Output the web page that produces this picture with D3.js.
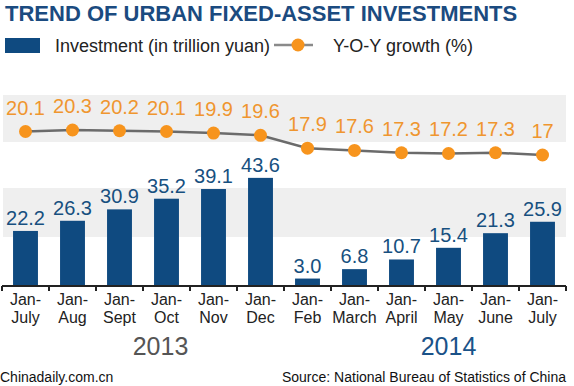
<!DOCTYPE html>
<html>
  <head>
    <meta charset="utf-8">
    <title>Urban fixed-asset investments</title>
    <script src="https://cdn.jsdelivr.net/npm/d3@7"></script>
	<style>
body {
  margin: 0;
  background: #fff;
  font-family: "Liberation Sans", Arial, sans-serif;
}
.band { fill: #efefef; }
.bar { fill: #0f4a80; }
.barLbl { fill: #17507f; font-size: 20px; text-anchor: middle; }
.growthLine { fill: none; stroke: #6b6b6b; stroke-width: 2.5px; }
.dot { fill: #f7941d; }
.dotLbl { fill: #ef962f; font-size: 20px; text-anchor: middle; }
.catLbl { fill: #222; font-size: 16px; text-anchor: middle; }
.axis path { stroke: #222; stroke-width: 2px; }
	</style>
  </head>
  <body>
<script>

// values
var periods = ["Jan-July", "Jan-Aug", "Jan-Sept", "Jan-Oct", "Jan-Nov", "Jan-Dec",
               "Jan-Feb", "Jan-March", "Jan-April", "Jan-May", "Jan-June", "Jan-July"];
var years = [2013, 2013, 2013, 2013, 2013, 2013, 2014, 2014, 2014, 2014, 2014, 2014];
var investment = [22.2, 26.3, 30.9, 35.2, 39.1, 43.6, 3.0, 6.8, 10.7, 15.4, 21.3, 25.9];
var growth = [20.1, 20.3, 20.2, 20.1, 19.9, 19.6, 17.9, 17.6, 17.3, 17.2, 17.3, 17];
var growthLabels = ["20.1", "20.3", "20.2", "20.1", "19.9", "19.6", "17.9", "17.6", "17.3", "17.2", "17.3", "17"];
var yearLabels = [{year: "2013", at: "Jan-Oct 2013", dx: -6, color: "#555"},
                  {year: "2014", at: "Jan-May 2014", dx: 0, color: "#1a5288"}];

var W = 574, H = 386;
var keys = periods.map(function(p, i) { return p + " " + years[i]; });
var data = keys.map(function(k, i) {
  return {key: k, period: periods[i], inv: investment[i], g: growth[i], gl: growthLabels[i]};
});

var svg = d3.select("body").append("svg")
    .attr("width", W)
    .attr("height", H);

var x = d3.scaleBand()
    .domain(keys)
    .range([2, 566])
    .paddingInner(0.47)
    .paddingOuter(0.235);

var y = d3.scaleLinear()
    .domain([0, 50])
    .range([286, 162]);

var yg = d3.scaleLinear()
    .domain([17, 20.3])
    .range([155, 130]);

// grey background bands
svg.append("rect").attr("class", "band")
    .attr("x", 3).attr("y", 95).attr("width", 563).attr("height", 47);
svg.append("rect").attr("class", "band")
    .attr("x", 3).attr("y", 188).attr("width", 563).attr("height", 49);

// title
svg.append("text")
    .attr("x", 5)
    .attr("y", 21)
    .style("font-size", "22px")
    .style("font-weight", "bold")
    .style("fill", "#1b4b80")
    .text("TREND OF URBAN FIXED-ASSET INVESTMENTS");

// legend
svg.append("rect")
    .attr("x", 5).attr("y", 38).attr("width", 35).attr("height", 15)
    .attr("class", "bar");
svg.append("text")
    .attr("x", 55).attr("y", 52)
    .style("font-size", "18px").style("fill", "#222")
    .text("Investment (in trillion yuan)");
svg.append("line")
    .attr("x1", 274).attr("x2", 313).attr("y1", 45).attr("y2", 45)
    .style("stroke", "#8a8a8a").style("stroke-width", 2.5);
svg.append("circle")
    .attr("class", "dot")
    .attr("cx", 298).attr("cy", 45).attr("r", 6.5);
svg.append("text")
    .attr("x", 333).attr("y", 52)
    .style("font-size", "18px").style("fill", "#222")
    .text("Y-O-Y growth (%)");

// bars
svg.selectAll(".bar.data")
    .data(data)
  .enter().append("rect")
    .attr("class", "bar data")
    .attr("x", function(d) { return x(d.key); })
    .attr("y", function(d) { return y(d.inv); })
    .attr("width", x.bandwidth())
    .attr("height", function(d) { return y(0) - y(d.inv); });

svg.selectAll(".barLbl")
    .data(data)
  .enter().append("text")
    .attr("class", "barLbl")
    .attr("x", function(d) { return x(d.key) + x.bandwidth() / 2; })
    .attr("y", function(d) { return y(d.inv) - 6; })
    .text(function(d) { return d.inv.toFixed(1); });

// x axis
var axis = svg.append("g")
    .attr("class", "axis")
    .attr("transform", "translate(0," + y(0) + ")")
    .call(d3.axisBottom(x).tickSize(0).tickFormat(""));
axis.select(".domain").attr("d", "M2,0H566");

var gap = x.step() - x.bandwidth();
var tickPos = keys.map(function(k) { return x(k) - gap / 2; }).concat([x.range()[1]]);
axis.selectAll(".bTick")
    .data(tickPos)
  .enter().append("line")
    .attr("class", "bTick")
    .attr("x1", function(d) { return d; })
    .attr("x2", function(d) { return d; })
    .attr("y1", 0).attr("y2", 5)
    .style("stroke", "#222").style("stroke-width", 2);

var cat = svg.selectAll(".catLbl")
    .data(data)
  .enter().append("text")
    .attr("class", "catLbl")
    .attr("x", function(d) { return x(d.key) + x.bandwidth() / 2; })
    .attr("y", 305);
cat.append("tspan")
    .attr("x", function(d) { return x(d.key) + x.bandwidth() / 2; })
    .text(function(d) { return d.period.split("-")[0] + "-"; });
cat.append("tspan")
    .attr("x", function(d) { return x(d.key) + x.bandwidth() / 2; })
    .attr("dy", 18)
    .text(function(d) { return d.period.split("-")[1]; });

svg.selectAll(".yearLbl")
    .data(yearLabels)
  .enter().append("text")
    .attr("class", "yearLbl")
    .attr("x", function(d) { return x(d.at) + x.bandwidth() / 2 + d.dx; })
    .attr("y", 355)
    .style("font-size", "25px")
    .style("text-anchor", "middle")
    .style("fill", function(d) { return d.color; })
    .text(function(d) { return d.year; });

// growth line
var line = d3.line()
    .x(function(d) { return x(d.key) + x.bandwidth() / 2; })
    .y(function(d) { return yg(d.g); });

svg.append("path")
    .datum(data)
    .attr("class", "growthLine")
    .attr("d", line);

svg.selectAll(".dot.data")
    .data(data)
  .enter().append("circle")
    .attr("class", "dot data")
    .attr("cx", function(d) { return x(d.key) + x.bandwidth() / 2; })
    .attr("cy", function(d) { return yg(d.g); })
    .attr("r", 6.5);

svg.selectAll(".dotLbl")
    .data(data)
  .enter().append("text")
    .attr("class", "dotLbl")
    .attr("x", function(d) { return x(d.key) + x.bandwidth() / 2; })
    .attr("y", function(d) { return yg(d.g) - 17; })
    .text(function(d) { return d.gl; });

// footer
svg.append("text")
    .attr("x", 0).attr("y", 382)
    .style("font-size", "14px").style("fill", "#111")
    .text("Chinadaily.com.cn");
svg.append("text")
    .attr("x", 566).attr("y", 382)
    .style("font-size", "14px").style("fill", "#111")
    .style("text-anchor", "end")
    .text("Source: National Bureau of Statistics of China");

</script>
  </body>
</html>
